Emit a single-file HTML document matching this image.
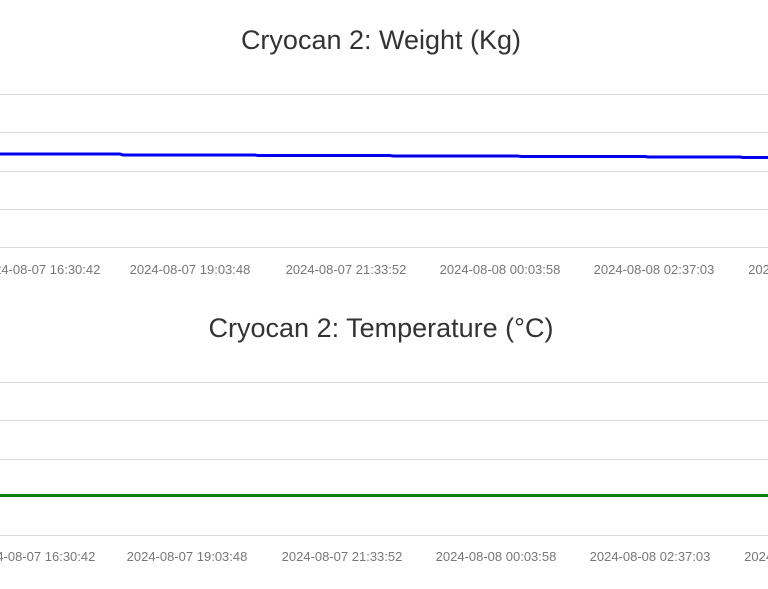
<!DOCTYPE html>
<html><head><style>
html,body{margin:0;padding:0;background:#fff;width:768px;height:589px;overflow:hidden}
svg text{font-family:"Liberation Sans",Arial,sans-serif}
</style></head><body>
<svg width="768" height="589" xmlns="http://www.w3.org/2000/svg">
<text x="381" y="49" font-size="27" fill="#333" text-anchor="middle">Cryocan 2: Weight (Kg)</text>
<g stroke="#d9d9d9" stroke-width="1">
<line x1="0" y1="94.5" x2="768" y2="94.5"/><line x1="0" y1="132.5" x2="768" y2="132.5"/>
<line x1="0" y1="171.5" x2="768" y2="171.5"/><line x1="0" y1="209.5" x2="768" y2="209.5"/>
<line x1="0" y1="247.5" x2="768" y2="247.5"/>
</g>
<polyline fill="none" stroke="#0000ee" stroke-width="3" points="0,154 120,154 123,155 255,155 258,155.5 390,155.5 393,156 518,156 521,156.5 645,156.5 648,157 740,157 743,157.5 768,157.5"/>
<g font-size="13" fill="#777" text-anchor="middle">
<text x="40" y="274">2024-08-07 16:30:42</text>
<text x="190" y="274">2024-08-07 19:03:48</text>
<text x="346" y="274">2024-08-07 21:33:52</text>
<text x="500" y="274">2024-08-08 00:03:58</text>
<text x="654" y="274">2024-08-08 02:37:03</text>
<text x="808" y="274">2024-08-08 05:07:11</text>
</g>
<text x="381" y="337" font-size="27" fill="#333" text-anchor="middle">Cryocan 2: Temperature (°C)</text>
<g stroke="#d9d9d9" stroke-width="1">
<line x1="0" y1="382.5" x2="768" y2="382.5"/><line x1="0" y1="420.5" x2="768" y2="420.5"/>
<line x1="0" y1="459.5" x2="768" y2="459.5"/><line x1="0" y1="535.5" x2="768" y2="535.5"/>
</g>
<line x1="0" y1="495.5" x2="768" y2="495.5" stroke="#008000" stroke-width="3"/>
<g font-size="13" fill="#777" text-anchor="middle">
<text x="35" y="561">2024-08-07 16:30:42</text>
<text x="187" y="561">2024-08-07 19:03:48</text>
<text x="342" y="561">2024-08-07 21:33:52</text>
<text x="496" y="561">2024-08-08 00:03:58</text>
<text x="650" y="561">2024-08-08 02:37:03</text>
<text x="804" y="561">2024-08-08 05:07:11</text>
</g>
</svg>
</body></html>
